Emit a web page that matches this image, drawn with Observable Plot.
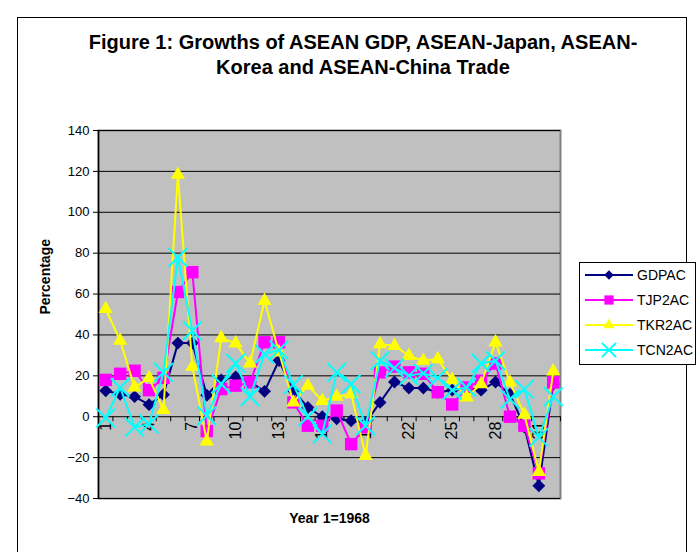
<!DOCTYPE html>
<html>
<head>
<meta charset="utf-8">
<script src="https://cdn.jsdelivr.net/npm/d3@7"></script>
<script src="https://cdn.jsdelivr.net/npm/@observablehq/plot@0.6"></script>
<style>
  html, body { margin: 0; padding: 0; background: #fff; }
  #wrap { position: relative; width: 700px; height: 552px; overflow: hidden; font-family: Arial, "Liberation Sans", sans-serif; }
  #wrap svg.plot { position: absolute; left: 0; top: 0; }
  #border { position: absolute; left: 17px; top: 17px; width: 668px; height: 560px; border: 1px solid #000; pointer-events: none; }
  #title { position: absolute; left: 63px; top: 30px; width: 600px; text-align: center; font-weight: bold; font-size: 20px; line-height: 25px; color: #000; }
  #legend { position: absolute; left: 579px; top: 262px; }
</style>
</head>
<body>
<div id="wrap">
  <div id="border"></div>
  <div id="title">Figure 1: Growths of ASEAN GDP, ASEAN-Japan, ASEAN-<br>Korea and ASEAN-China Trade</div>
  <div id="legend"></div>
</div>
<script>
const years = d3.range(1, 33);
const xTickLabels = [1, 4, 7, 10, 13, 16, 19, 22, 25, 28, 31];
const yTicks = [-40, -20, 0, 20, 40, 60, 80, 100, 120, 140];
const seriesNames = ["GDPAC", "TJP2AC", "TKR2AC", "TCN2AC"];
const gdpac  = [12.7, 11, 9.8, 5.9, 10.8, 36, 36, 10.5, 18, 19.5, 17, 12.4, 27.5, 12.7, 4.5, 0, -1, -2, -3, 7, 17, 14, 14, 12, 13, 14, 13, 17, 11, -5, -33.8, 16];
const tjp2ac = [18, 21, 22.5, 13, 19, 61, 70.7, -7, 13.5, 15.2, 16.8, 36.4, 36.4, 7, -4.4, -4.4, 3, -13.4, -5.2, 21.7, 24.5, 21.7, 21, 12, 6, 14.3, 17.6, 26, 0, -4.4, -27.7, 16.8];
const tkr2ac = [52.7, 37.2, 14.3, 19, 3.3, 118.4, 24.5, -12, 38.5, 35.9, 26.1, 56.7, 31.5, 7, 15.2, 7.8, 9.8, 11.1, -19.1, 35.5, 34.7, 29.8, 27.4, 28.2, 18, 9.5, 16, 36.4, 16.8, 1, -27, 22.2];
const tcn2ac = [-0.6, 14.3, -5.2, -3.6, 21.7, 77.9, 42, 0.5, 16, 26.1, 9.8, 30.7, 32.6, 15.7, 0, -8.5, 21.7, 16, -4.4, 27.4, 23.8, 20.1, 21.2, 19, 13, 14.3, 26.1, 27.4, 8.6, 13.5, -10.1, 9.8];

const styles = [
  {color: "#000080", symbol: "diamond2", r: 5.8, lr: 4.2, filled: true},
  {color: "#FF00FF", symbol: "square",   r: 7,   lr: 5.2, filled: true},
  {color: "#FFFF00", symbol: "triangle", r: 5.3, lr: 4.2, filled: true},
  {color: "#00FFFF", symbol: "times",    r: 8.5, lr: 6.5, filled: false}
];
const values = [gdpac, tjp2ac, tkr2ac, tcn2ac];
const series = seriesNames.map((name, k) => ({
  name, style: styles[k],
  data: years.map((yr, i) => ({year: yr, v: values[k][i]}))
}));
const bounds = d3.range(0.5, 33, 1);

const seriesMarks = series.flatMap(s => [
  Plot.line(s.data, {x: "year", y: "v", stroke: s.style.color, strokeWidth: 2}),
  s.style.filled
    ? Plot.dot(s.data, {x: "year", y: "v", symbol: s.style.symbol, r: s.style.r, fill: s.style.color, stroke: "none"})
    : Plot.dot(s.data, {x: "year", y: "v", symbol: s.style.symbol, r: s.style.r, fill: "none", stroke: s.style.color, strokeWidth: 2})
]);

const chart = Plot.plot({
  width: 700, height: 552,
  marginLeft: 98, marginRight: 140, marginTop: 130, marginBottom: 54,
  style: {fontFamily: "Arial, 'Liberation Sans', sans-serif", background: "transparent", color: "#000"},
  x: {type: "linear", domain: [0.5, 32.5], axis: null},
  y: {domain: [-40, 140], axis: null},
  marks: [
    Plot.frame({fill: "#C0C0C0", stroke: "#808080", strokeWidth: 2}),
    Plot.ruleY(yTicks, {stroke: "#000", strokeWidth: 1}),
    Plot.ruleX([0.5], {stroke: "#000", strokeWidth: 1.5}),
    Plot.ruleX(bounds, {x: d => d, y1: 0, y2: 0, insetBottom: -5, stroke: "#000", strokeWidth: 1}),
    Plot.axisY(yTicks, {tickSize: 5, tickPadding: 4, fontSize: 13, label: null}),
    Plot.text(xTickLabels, {x: d => d, y: 0, text: d => String(d), rotate: -90, textAnchor: "end", dy: 5, fontSize: 16}),
    Plot.text(["Percentage"], {frameAnchor: "left", rotate: -90, dx: -53, fontWeight: "bold", fontSize: 14}),
    Plot.text(["Year 1=1968"], {frameAnchor: "bottom", dy: 24, fontWeight: "bold", fontSize: 14}),
    ...seriesMarks
  ]
});
chart.classList.add("plot");
document.getElementById("wrap").insertBefore(chart, document.getElementById("border"));

// Legend
const symMap = {diamond2: d3.symbolDiamond2, square: d3.symbolSquare, triangle: d3.symbolTriangle, times: d3.symbolTimes};
const lg = d3.select("#legend").append("svg").attr("width", 118).attr("height", 104);
lg.append("rect").attr("x", 0.5).attr("y", 0.5).attr("width", 116).attr("height", 102).attr("fill", "#fff").attr("stroke", "#000");
series.forEach((s, k) => {
  const g = lg.append("g").attr("transform", `translate(0,${13 + k * 25})`);
  g.append("line").attr("x1", 6).attr("x2", 54).attr("y1", 0).attr("y2", 0).attr("stroke", s.style.color).attr("stroke-width", 2);
  const path = d3.symbol(symMap[s.style.symbol], Math.PI * s.style.lr * s.style.lr)();
  const p = g.append("path").attr("d", path).attr("transform", "translate(30,0)");
  if (s.style.filled) p.attr("fill", s.style.color);
  else p.attr("fill", "none").attr("stroke", s.style.color).attr("stroke-width", 2);
  g.append("text").attr("x", 58).attr("y", 0).attr("dy", "0.35em").attr("font-size", 14)
    .attr("font-family", "Arial, 'Liberation Sans', sans-serif").text(s.name);
});
</script>
</body>
</html>
